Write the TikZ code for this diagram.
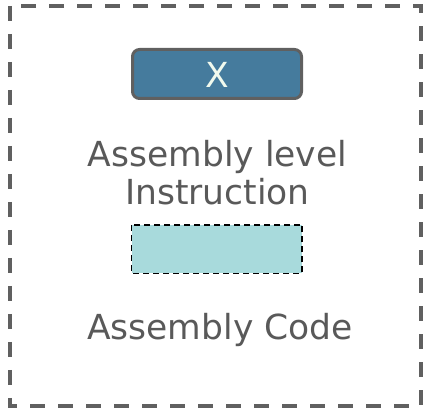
\documentclass[tikz,border=0pt]{standalone}
\usepackage{fontspec}
\setmainfont{DejaVu Sans}
\definecolor{frameGray}{HTML}{606060}
\definecolor{textGray}{HTML}{595959}
\definecolor{steel}{HTML}{457B9D}
\definecolor{cream}{HTML}{F1FAEE}
\definecolor{aqua}{HTML}{A8DADC}
\tikzset{
  outerframe/.style={draw=frameGray, line width=3.3pt, dash pattern=on 15pt off 13pt},
  regbox/.style={draw=frameGray, line width=3pt, fill=steel, rounded corners=7pt},
  slotbox/.style={draw=black, line width=1.8pt, fill=aqua, dash pattern=on 6pt off 4pt},
  caption/.style={text=textGray, font=\fontsize{34.5}{38}\selectfont, align=center, inner sep=0pt}
}
\begin{document}
\begin{tikzpicture}[x=1pt, y=-1pt]
  \useasboundingbox (0,0) rectangle (423,411);
  % dashed enclosure
  \draw[outerframe] (10,6) rectangle (421,406);
  % register box with its label
  \draw[regbox] (132.5,49.5) rectangle (301.5,98.5);
  \node[text=cream, font=\fontsize{34.5}{38}\selectfont, inner sep=0pt] (xlabel) at (217,75) {X};
  % caption above the slot
  \node[caption, anchor=base] (instr1) at (217.5,167) {Assembly level};
  \node[caption, anchor=base] (instr2) at (217.5,205) {Instruction};
  % empty instruction slot
  \draw[slotbox] (131.5,225) rectangle (302,273.5);
  % bottom caption
  \node[caption, anchor=base] (code) at (220,340) {Assembly Code};
\end{tikzpicture}
\end{document}
